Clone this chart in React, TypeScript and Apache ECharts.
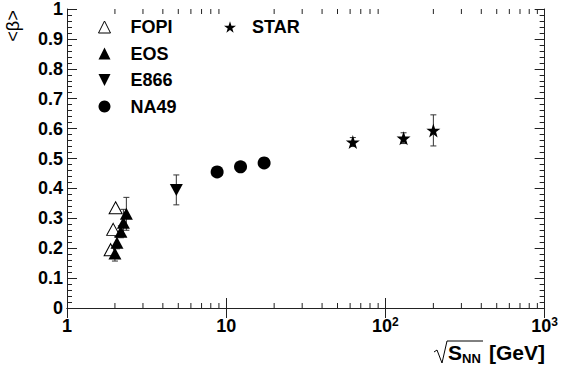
import React, { useEffect, useRef } from "react";
import * as echarts from "echarts";

// ---- data ----
const fopiX = [2.02, 1.95, 1.88];
const fopiY = [0.335, 0.263, 0.195];

const eosX = [2.36, 2.26, 2.18, 2.06, 2.0];
const eosY = [0.315, 0.285, 0.255, 0.218, 0.182];
const eosErr = [0.055, 0.045, 0.02, 0.02, 0.025];

const e866X = [4.86];
const e866Y = [0.395];
const e866Err = [0.05];

const na49X = [8.77, 12.3, 17.3];
const na49Y = [0.455, 0.472, 0.485];

const starX = [62.4, 130, 200];
const starY = [0.555, 0.568, 0.594];
const starErr = [0.015, 0.018, 0.052];

const xTickValues = [1, 10, 100, 1000];
const xTickLabels = ["1", "10", "10{sup|2}", "10{sup|3}"];
const xMinorTicks = [2, 3, 4, 5, 6, 7, 8, 9, 20, 30, 40, 50, 60, 70, 80, 90, 200, 300, 400, 500, 600, 700, 800, 900];

const FONT = "'Liberation Sans', Arial, Helvetica, sans-serif";
const FRAME = "#222";

const STAR_PATH =
  "path://M50,0 L61.8,35.1 L98.9,35.1 L68.8,57.3 L79.4,91.9 L50,70.5 L20.6,91.9 L31.2,57.3 L1.1,35.1 L38.2,35.1 Z";
const DOWN_TRI = "path://M0,0 L10,0 L5,10 Z";

function zip(xs: number[], ys: number[]) {
  return xs.map((x, i) => [x, ys[i]]);
}
function zip3(xs: number[], ys: number[], es: number[]) {
  return xs.map((x, i) => [x, ys[i], es[i]]);
}

export default function App() {
  const ref = useRef<HTMLDivElement>(null);
  useEffect(() => {
    if (!ref.current) return;
    const chart = echarts.init(ref.current, undefined, { renderer: "svg" });

    const errData = [
      ...zip3(eosX, eosY, eosErr),
      ...zip3(e866X, e866Y, e866Err),
      ...zip3(starX, starY, starErr),
    ];

    const lineStyle = { stroke: "#333", lineWidth: 1 };

    const xLabelFmt = (v: number) => {
      const i = xTickValues.findIndex((t) => Math.abs(t - v) < 1e-6 * t);
      return i >= 0 ? xTickLabels[i] : "";
    };

    const legendText = {
      fontFamily: FONT,
      fontWeight: "bold" as const,
      fontSize: 18,
      color: "#000",
      lineHeight: 18,
    };

    const option: any = {
      animation: false,
      backgroundColor: "#fff",
      grid: { left: 67, right: 13, top: 8, bottom: 64, containLabel: false },
      xAxis: [
        {
          type: "log",
          logBase: 10,
          min: 1,
          max: 1000,
          position: "bottom",
          axisLine: { show: true, lineStyle: { color: FRAME, width: 1 } },
          axisTick: { show: true, inside: true, length: 10, lineStyle: { color: FRAME } },
          axisLabel: {
            show: true,
            formatter: xLabelFmt,
            fontFamily: FONT,
            fontWeight: "bold",
            fontSize: 18,
            lineHeight: 20,
            color: "#000",
            margin: 8,
            rich: {
              sup: {
                fontFamily: FONT,
                fontWeight: "bold",
                fontSize: 12,
                color: "#000",
                verticalAlign: "top",
                lineHeight: 20,
                padding: [0, 0, 8, 0],
              },
            },
          },
          splitLine: { show: false },
        },
        {
          type: "log",
          logBase: 10,
          min: 1,
          max: 1000,
          position: "top",
          axisLine: { show: true, lineStyle: { color: FRAME, width: 1 } },
          axisTick: { show: true, inside: true, length: 10, lineStyle: { color: FRAME } },
          axisLabel: { show: false },
          splitLine: { show: false },
        },
      ],
      yAxis: [
        {
          type: "value",
          min: 0,
          max: 1,
          interval: 0.1,
          position: "left",
          axisLine: { show: true, lineStyle: { color: FRAME, width: 1 } },
          axisTick: { show: true, inside: true, length: 10, lineStyle: { color: FRAME } },
          minorTick: { show: true, splitNumber: 5, length: 5, lineStyle: { color: FRAME } },
          axisLabel: {
            formatter: (v: number) => (v === 0 ? "0" : v === 1 ? "1" : v.toFixed(1)),
            fontFamily: FONT,
            fontWeight: "bold",
            fontSize: 18,
            color: "#000",
            margin: 4,
          },
          splitLine: { show: false },
        },
        {
          type: "value",
          min: 0,
          max: 1,
          interval: 0.1,
          position: "right",
          axisLine: { show: true, lineStyle: { color: FRAME, width: 1 } },
          axisTick: { show: true, inside: true, length: 10, lineStyle: { color: FRAME } },
          minorTick: { show: true, splitNumber: 5, length: 5, lineStyle: { color: FRAME } },
          axisLabel: { show: false },
          splitLine: { show: false },
        },
      ],
      legend: [
        {
          data: [
            { name: "FOPI", icon: "triangle", itemStyle: { color: "#fff", borderColor: "#000", borderWidth: 1 } },
            { name: "EOS", icon: "triangle", itemStyle: { color: "#000" } },
            { name: "E866", icon: DOWN_TRI, itemStyle: { color: "#000" } },
            { name: "NA49", icon: "circle", itemStyle: { color: "#000" } },
          ],
          orient: "vertical",
          left: 93,
          top: 13,
          itemWidth: 12,
          itemHeight: 12,
          itemGap: 8.5,
          selectedMode: false,
          textStyle: { ...legendText, padding: [0, 0, 0, 15] },
        },
        {
          data: [{ name: "STAR", icon: STAR_PATH, itemStyle: { color: "#000" } }],
          orient: "vertical",
          left: 219,
          top: 13,
          itemWidth: 12,
          itemHeight: 12,
          selectedMode: false,
          textStyle: { ...legendText, padding: [0, 0, 0, 11] },
        },
      ],
      series: [
        {
          name: "minorTicks",
          type: "custom",
          xAxisIndex: 0,
          yAxisIndex: 0,
          silent: true,
          data: xMinorTicks.map((v) => [v]),
          encode: { x: 0 },
          renderItem: (params: any, api: any) => {
            const v = api.value(0);
            const b = api.coord([v, 0]);
            const t = api.coord([v, 1]);
            const st = { stroke: FRAME, lineWidth: 1 };
            return {
              type: "group",
              children: [
                { type: "line", shape: { x1: b[0], y1: b[1], x2: b[0], y2: b[1] - 5 }, style: st },
                { type: "line", shape: { x1: t[0], y1: t[1], x2: t[0], y2: t[1] + 5 }, style: st },
              ],
            };
          },
          z: 1,
        },
        {
          name: "errors",
          type: "custom",
          xAxisIndex: 0,
          yAxisIndex: 0,
          silent: true,
          data: errData,
          encode: { x: 0, y: 1 },
          renderItem: (params: any, api: any) => {
            const x = api.value(0);
            const y = api.value(1);
            const e = api.value(2);
            const top = api.coord([x, y + e]);
            const bot = api.coord([x, y - e]);
            const cw = 3;
            return {
              type: "group",
              children: [
                { type: "line", shape: { x1: top[0], y1: top[1], x2: bot[0], y2: bot[1] }, style: lineStyle },
                { type: "line", shape: { x1: top[0] - cw, y1: top[1], x2: top[0] + cw, y2: top[1] }, style: lineStyle },
                { type: "line", shape: { x1: bot[0] - cw, y1: bot[1], x2: bot[0] + cw, y2: bot[1] }, style: lineStyle },
              ],
            };
          },
          z: 2,
        },
        {
          name: "EOS",
          type: "scatter",
          symbol: "triangle",
          symbolSize: [13, 12],
          data: zip(eosX, eosY),
          itemStyle: { color: "#000", opacity: 1 },
          z: 3,
        },
        {
          name: "FOPI",
          type: "scatter",
          symbol: "triangle",
          symbolSize: [13, 12],
          data: zip(fopiX, fopiY),
          itemStyle: { color: "rgba(255,255,255,0)", borderColor: "#000", borderWidth: 1, opacity: 1 },
          z: 4,
        },
        {
          name: "E866",
          type: "scatter",
          symbol: DOWN_TRI,
          symbolSize: [13, 12],
          data: zip(e866X, e866Y),
          itemStyle: { color: "#000", opacity: 1 },
          z: 3,
        },
        {
          name: "NA49",
          type: "scatter",
          symbol: "circle",
          symbolSize: 13,
          data: zip(na49X, na49Y),
          itemStyle: { color: "#000", opacity: 1 },
          z: 3,
        },
        {
          name: "STAR",
          type: "scatter",
          symbol: STAR_PATH,
          symbolSize: 14,
          data: zip(starX, starY),
          itemStyle: { color: "#000", opacity: 1 },
          z: 3,
        },
      ],
      graphic: [
        {
          type: "text",
          x: 13,
          y: 26,
          rotation: Math.PI / 2,
          style: {
            text: "<β>",
            fontFamily: FONT,
            fontSize: 18,
            fill: "#000",
            align: "center",
            verticalAlign: "middle",
          },
        },
        {
          type: "polyline",
          shape: { points: [[434, 352], [437, 350], [442, 363], [447, 341], [483, 341]] },
          style: { stroke: "#000", lineWidth: 1, fill: null },
        },
        {
          type: "text",
          x: 448,
          y: 352,
          style: { text: "S", fontFamily: FONT, fontWeight: "bold", fontSize: 21, fill: "#000", verticalAlign: "middle" },
        },
        {
          type: "text",
          x: 462,
          y: 358,
          style: { text: "NN", fontFamily: FONT, fontWeight: "bold", fontSize: 13, fill: "#000", verticalAlign: "middle" },
        },
        {
          type: "text",
          x: 489,
          y: 352,
          style: { text: "[GeV]", fontFamily: FONT, fontWeight: "bold", fontSize: 21, fill: "#000", verticalAlign: "middle" },
        },
      ],
    };

    chart.setOption(option);
    return () => chart.dispose();
  }, []);

  return (
    <div
      ref={ref}
      style={{ position: "absolute", left: 0, top: 0, width: 561, height: 372 }}
    />
  );
}
